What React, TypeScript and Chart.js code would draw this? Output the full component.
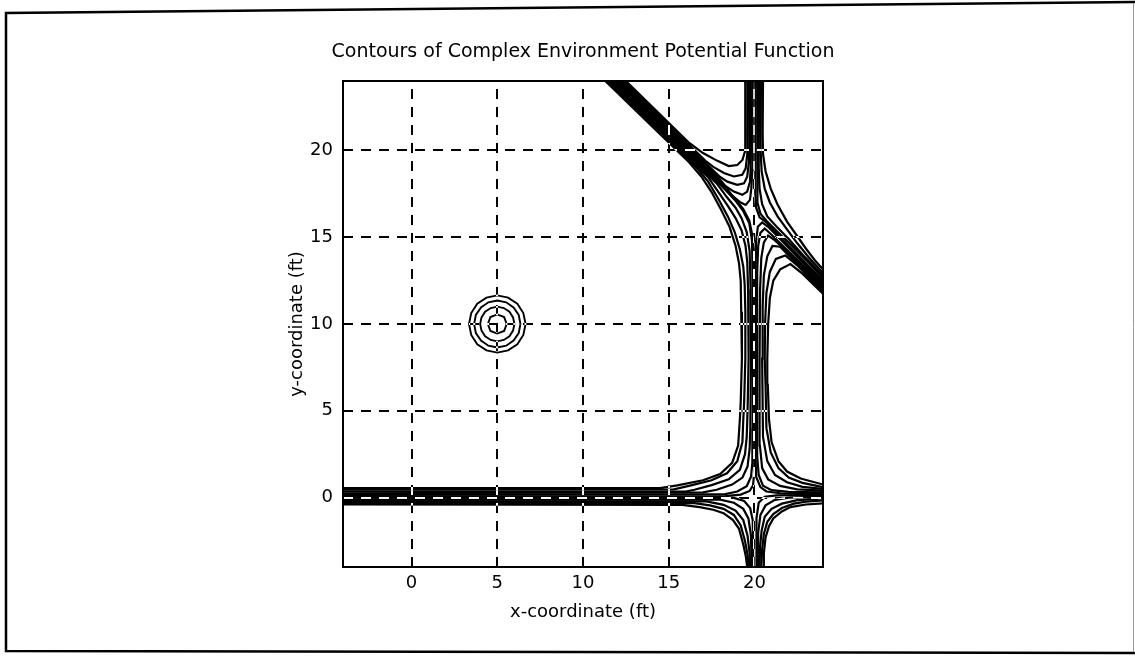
import React, { useEffect, useRef } from 'react';
import { Chart, registerables } from 'chart.js';

Chart.register(...registerables);

const FONT = 'DejaVu Sans';

const chartTitle = 'Contours of Complex Environment Potential Function';
const xAxisLabel = 'x-coordinate (ft)';
const yAxisLabel = 'y-coordinate (ft)';
const xLimits = [-4, 24];
const yLimits = [-4, 24];
const xTicks = [0, 5, 10, 15, 20];
const yTicks = [0, 5, 10, 15, 20];

type Contour = number[][];

// point obstacle at (5, 10)
const obstacleRings: Contour[] = [
  [[6.65,10],[6.52,10.63],[6.17,11.17],[5.63,11.52],[5,11.65],[4.37,11.52],[3.83,11.17],[3.48,10.63],[3.35,10],[3.48,9.37],[3.83,8.83],[4.37,8.48],[5,8.35],[5.63,8.48],[6.17,8.83],[6.52,9.37],[6.65,10]],
  [[6.35,10],[6.25,10.52],[5.95,10.95],[5.52,11.25],[5,11.35],[4.48,11.25],[4.05,10.95],[3.75,10.52],[3.65,10],[3.75,9.48],[4.05,9.05],[4.48,8.75],[5,8.65],[5.52,8.75],[5.95,9.05],[6.25,9.48],[6.35,10]],
  [[6,10],[5.92,10.38],[5.71,10.71],[5.38,10.92],[5,11],[4.62,10.92],[4.29,10.71],[4.08,10.38],[4,10],[4.08,9.62],[4.29,9.29],[4.62,9.08],[5,9],[5.38,9.08],[5.71,9.29],[5.92,9.62],[6,10]],
  [[5.55,10],[5.4,10.4],[5,10.55],[4.6,10.4],[4.45,10],[4.6,9.6],[5,9.45],[5.4,9.6],[5.55,10]],
];

// region left of x=20 wall, above y=0 wall, below diagonal wall
const contoursMidLeft: Contour[] = [
  [[11.3,24],[16.2,19.3],[16.9,18.5],[17.5,17.6],[18.05,16.6],[18.55,15.6],[18.9,14.5],[19.1,13.5],[19.2,12.5],[19.23,10.7],[19.27,8],[19.2,5.5],[19.15,4.5],[19.05,3.0],[18.7,2.0],[18.0,1.35],[17.0,1.0],[15.5,0.7],[14.5,0.55],[-4,0.55]],
  [[11.42,24],[16.7,18.93],[17.3,18.2],[17.9,17.2],[18.45,16.2],[18.85,15.3],[19.15,14.3],[19.35,13.3],[19.43,12.3],[19.47,10.7],[19.47,8],[19.4,5.5],[19.35,4.5],[19.3,3.2],[19.0,2.1],[18.4,1.4],[17.5,1.0],[16.3,0.7],[15.3,0.47],[-4,0.45]],
  [[11.55,24],[17.3,18.46],[17.9,17.6],[18.45,16.8],[18.9,16.1],[19.25,15.4],[19.48,14.5],[19.58,13.6],[19.63,12],[19.66,8],[19.6,5],[19.55,3.5],[19.45,2.5],[19.15,1.6],[18.5,1.05],[17.5,0.72],[16.5,0.45],[16,0.35],[-4,0.35]],
  [[11.67,24],[17.8,18.1],[18.4,17.3],[18.9,16.7],[19.25,16.1],[19.55,15.3],[19.72,14.2],[19.78,12],[19.8,8],[19.76,4],[19.72,2.8],[19.6,1.8],[19.3,1.15],[18.7,0.75],[17.8,0.45],[17,0.3],[-4,0.25]],
  [[11.79,24],[18.3,17.74],[18.9,17.1],[19.35,16.5],[19.7,15.8],[19.86,14.8],[19.9,12],[19.92,8],[19.9,4],[19.88,2.0],[19.8,1.2],[19.55,0.65],[19.0,0.35],[18.3,0.2],[-4,0.15]],
  [[11.9,24],[18.3,17.84],[18.9,17.17],[19.35,16.62],[19.7,15.95],[19.9,15.0],[19.98,14],[20.0,12],[20.0,8],[19.99,4],[19.98,1.5],[19.92,0.7],[19.72,0.38],[19.2,0.17],[18.3,0.08],[-4,0.07]],
];

// triangle above diagonal wall, left of x=20 wall
const contoursUpperLeft: Contour[] = [
  [[12.5,24],[16.2,20.43],[17.0,19.85],[17.84,19.4],[18.5,19.1],[19.0,19.16],[19.3,19.45],[19.45,19.95],[19.48,20.5],[19.45,24]],
  [[12.37,24],[17.2,19.35],[17.6,19.05],[18.22,18.7],[18.8,18.5],[19.29,18.6],[19.49,18.97],[19.58,19.74],[19.6,20.5],[19.57,24]],
  [[12.24,24],[17.6,18.84],[18.0,18.47],[18.42,18.2],[19.0,18.02],[19.39,18.1],[19.58,18.49],[19.68,19.35],[19.7,20.5],[19.68,24]],
  [[12.12,24],[17.9,18.44],[18.3,17.95],[18.8,17.63],[19.29,17.44],[19.58,17.63],[19.74,18.2],[19.78,18.97],[19.8,20.5],[19.79,24]],
  [[12.0,24],[18.3,17.94],[18.7,17.4],[19.2,17.0],[19.49,16.86],[19.74,17.15],[19.82,17.82],[19.88,18.97],[19.9,24]],
];

// region right of x=20 wall, above diagonal wall
const contoursUpperRight: Contour[] = [
  [[20.5,24],[20.48,21],[20.5,19.8],[20.65,18.8],[20.95,17.8],[21.34,16.9],[21.9,15.9],[22.4,15.2],[23,14.35],[23.5,13.7],[24,13.15]],
  [[20.38,24],[20.36,20],[20.42,18.8],[20.6,17.8],[20.9,17.0],[21.35,16.2],[21.9,15.45],[22.5,14.65],[23.2,13.8],[24,12.95]],
  [[20.27,24],[20.25,19],[20.3,17.8],[20.45,16.9],[20.75,16.2],[21.3,15.6],[22,14.9],[22.8,14.0],[24,12.8]],
  [[20.16,24],[20.15,18],[20.2,17.0],[20.35,16.35],[20.7,15.95],[21.3,15.35],[22.2,14.5],[23.2,13.5],[24,12.65]],
  [[20.05,24],[20.05,17.5],[20.1,16.7],[20.3,16.15],[20.7,15.85],[21.5,15.0],[22.5,14.0],[24,12.5]],
];

// region right of x=20 wall, above y=0 wall, below diagonal wall
const contoursMidRight: Contour[] = [
  [[24,0.75],[22.7,1.1],[21.9,1.5],[21.4,2.1],[21.0,3.2],[20.85,4.5],[20.78,6.5],[20.75,8],[20.8,10],[20.9,11.5],[21.1,12.5],[21.5,13.15],[22.1,13.45],[22.8,12.9],[23.4,12.32],[24,11.75]],
  [[24,0.6],[22.8,0.85],[22.0,1.15],[21.4,1.7],[20.95,2.6],[20.7,4],[20.65,6.5],[20.6,8],[20.62,10],[20.7,11.8],[20.9,13.0],[21.25,13.75],[21.8,13.95],[22.5,13.38],[23.2,12.65],[24,11.89]],
  [[24,0.5],[22.8,0.62],[21.9,0.88],[21.2,1.3],[20.75,2.1],[20.5,3.5],[20.45,8],[20.48,11],[20.55,12.8],[20.75,13.9],[21.05,14.5],[21.5,14.45],[22.2,13.75],[23,12.98],[24,12.01]],
  [[24,0.4],[22.5,0.47],[21.5,0.67],[20.8,1.05],[20.45,1.7],[20.32,3],[20.3,8],[20.33,12],[20.4,13.8],[20.55,14.7],[20.8,15.1],[21.2,14.82],[22,14.06],[23,13.1],[24,12.13]],
  [[24,0.3],[22,0.33],[21,0.43],[20.5,0.68],[20.25,1.3],[20.15,2.5],[20.15,8],[20.17,13],[20.22,14.5],[20.35,15.25],[20.6,15.5],[21.0,15.14],[22,14.18],[23,13.22],[24,12.25]],
  [[24,0.22],[21.5,0.25],[20.7,0.35],[20.35,0.6],[20.1,1.2],[20.06,2.5],[20.06,8],[20.07,13],[20.1,14.8],[20.2,15.6],[20.45,15.85],[20.8,15.6],[21.5,14.9],[22.5,13.88],[23.5,12.87],[24,12.37]],
];

// region right of x=20 wall, below y=0 wall
const contoursLowerRight: Contour[] = [
  [[20.5,-4],[20.55,-3.2],[20.65,-2.3],[20.85,-1.65],[21.1,-1.2],[21.6,-0.8],[22.1,-0.55],[23,-0.4],[24,-0.33]],
  [[20.4,-4],[20.45,-3.0],[20.55,-2.1],[20.75,-1.4],[21.1,-0.95],[21.6,-0.6],[22.3,-0.35],[23,-0.23],[24,-0.17]],
  [[20.3,-4],[20.33,-2.8],[20.42,-1.9],[20.6,-1.1],[21.0,-0.65],[21.6,-0.35],[22.5,-0.15],[24,-0.05]],
  [[20.2,-4],[20.22,-2.0],[20.35,-1.0],[20.65,-0.45],[21.2,-0.13],[22,0.0],[24,0.05]],
  [[20.1,-4],[20.12,-1.2],[20.25,-0.3],[20.6,0.05],[21.3,0.13],[24,0.15]],
];

// region left of x=20 wall, below y=0 wall
const contoursLowerLeft: Contour[] = [
  [[-4,-0.4],[15.8,-0.42],[16.8,-0.55],[17.6,-0.7],[18.2,-0.9],[18.75,-1.3],[19.1,-1.8],[19.35,-2.7],[19.5,-3.4],[19.58,-4]],
  [[-4,-0.3],[16.5,-0.32],[17.4,-0.45],[18.2,-0.65],[18.8,-1.0],[19.2,-1.6],[19.45,-2.5],[19.6,-3.3],[19.66,-4]],
  [[-4,-0.2],[17.2,-0.22],[18.2,-0.42],[18.9,-0.75],[19.35,-1.3],[19.6,-2.2],[19.72,-3.2],[19.75,-4]],
  [[-4,-0.1],[18.0,-0.12],[18.8,-0.3],[19.35,-0.65],[19.65,-1.2],[19.8,-2.2],[19.84,-4]],
  [[-4,0.0],[18.8,-0.02],[19.4,-0.2],[19.75,-0.6],[19.9,-1.3],[19.93,-4]],
];

const framePlugin = {
  id: 'matlabFrame',
  beforeDraw(chart: any) {
    const { ctx } = chart;
    ctx.save();
    ctx.fillStyle = '#ffffff';
    ctx.fillRect(0, 0, chart.width, chart.height);
    ctx.restore();
  },
  afterDatasetsDraw(chart: any) {
    const { ctx, chartArea: a, scales } = chart;
    const xs = scales.x;
    const ys = scales.y;
    // dashed grid, drawn in XOR-like mode (white on black, black on white)
    ctx.save();
    ctx.globalCompositeOperation = 'difference';
    ctx.strokeStyle = '#ffffff';
    ctx.lineWidth = 2;
    ctx.setLineDash([10, 8]);
    ctx.beginPath();
    xTicks.forEach((v) => {
      const px = Math.round(xs.getPixelForValue(v));
      ctx.moveTo(px, a.bottom);
      ctx.lineTo(px, a.top);
    });
    yTicks.forEach((v) => {
      const py = Math.round(ys.getPixelForValue(v));
      ctx.moveTo(a.left, py);
      ctx.lineTo(a.right, py);
    });
    ctx.stroke();
    ctx.restore();

    // axes box
    ctx.save();
    ctx.strokeStyle = '#000';
    ctx.lineWidth = 2;
    ctx.strokeRect(a.left, a.top, a.right - a.left, a.bottom - a.top);
    ctx.restore();

    // title, centred over the axes like MATLAB does
    ctx.save();
    ctx.fillStyle = '#000';
    ctx.font = '19px "' + FONT + '"';
    ctx.textAlign = 'center';
    ctx.textBaseline = 'middle';
    ctx.fillText(chartTitle, (a.left + a.right) / 2, 52);
    ctx.restore();

    // outer figure frame
    ctx.save();
    ctx.strokeStyle = '#000';
    ctx.lineWidth = 2.5;
    ctx.beginPath();
    ctx.moveTo(1135, 2);
    ctx.lineTo(6, 13);
    ctx.lineTo(6, 651);
    ctx.lineTo(1135, 653);
    ctx.stroke();
    ctx.strokeStyle = '#9a9a9a';
    ctx.lineWidth = 1;
    ctx.beginPath();
    ctx.moveTo(1133.5, 3);
    ctx.lineTo(1133.5, 652);
    ctx.stroke();
    ctx.restore();
  },
};

export default function App() {
  const ref = useRef<HTMLCanvasElement>(null);

  useEffect(() => {
    const canvas = ref.current;
    if (!canvas) return;
    const wallGroups: Contour[][] = [
      contoursMidLeft,
      contoursUpperLeft,
      contoursUpperRight,
      contoursMidRight,
      contoursLowerRight,
      contoursLowerLeft,
    ];
    const toDataset = (c: Contour, i: number, width: number) => ({
      label: 'contour ' + i,
      data: c.map(([x, y]) => ({ x, y })),
      showLine: true,
      borderColor: '#000',
      backgroundColor: '#000',
      borderWidth: width,
      pointRadius: 0,
      pointHoverRadius: 0,
      fill: false,
      tension: 0,
    });
    const datasets = [
      ...obstacleRings.map((c, i) => toDataset(c, i, 1.9)),
      ...wallGroups.flat().map((c, i) => toDataset(c, 100 + i, 2.2)),
    ];

    const tickFont = { family: FONT, size: 18 };
    const chart = new Chart(canvas, {
      type: 'scatter',
      data: { datasets },
      options: {
        responsive: false,
        animation: false,
        devicePixelRatio: 1,
        events: [],
        layout: { padding: { left: 283, right: 312, top: 81, bottom: 33 } },
        plugins: {
          legend: { display: false },
          tooltip: { enabled: false },
          title: { display: false },
        },
        scales: {
          x: {
            type: 'linear',
            min: xLimits[0],
            max: xLimits[1],
            grid: { display: false, drawTicks: false },
            border: { display: false },
            afterBuildTicks: (s: any) => {
              s.ticks = xTicks.map((v) => ({ value: v }));
            },
            afterFit: (s: any) => {
              s.height = 62;
            },
            ticks: { padding: 5.2, color: '#000', font: tickFont, autoSkip: false, maxRotation: 0 },
            title: {
              display: true,
              text: xAxisLabel,
              color: '#000',
              font: { family: FONT, size: 18 },
              padding: { top: 0, bottom: 6.2 },
            },
          },
          y: {
            type: 'linear',
            min: yLimits[0],
            max: yLimits[1],
            grid: { display: false, drawTicks: false },
            border: { display: false },
            afterBuildTicks: (s: any) => {
              s.ticks = yTicks.map((v) => ({ value: v }));
            },
            afterFit: (s: any) => {
              s.width = 60;
            },
            ticks: { padding: 10, color: '#000', font: tickFont, autoSkip: false },
            title: {
              display: true,
              text: yAxisLabel,
              color: '#000',
              font: { family: FONT, size: 18 },
              padding: { top: 3.2, bottom: 0 },
            },
          },
        },
      } as any,
      plugins: [framePlugin],
    });
    return () => chart.destroy();
  }, []);

  return (
    <div style={{ position: 'absolute', left: 0, top: 0, width: 1135, height: 662 }}>
      <canvas ref={ref} width={1135} height={662} style={{ display: 'block' }} />
    </div>
  );
}
